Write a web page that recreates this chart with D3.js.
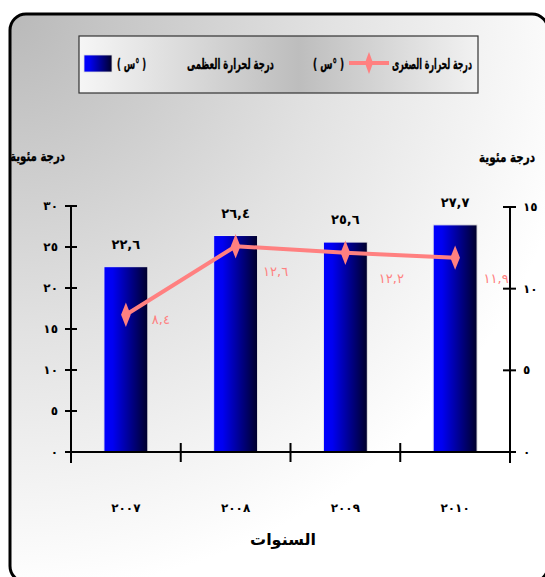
<!DOCTYPE html>
<html><head><meta charset="utf-8">
<script src="https://cdn.jsdelivr.net/npm/d3@7/dist/d3.min.js"></script>
<style>html,body{margin:0;padding:0;background:#fff;}svg{display:block;}</style>
</head><body>
<script>
// ---- data ----
const years = [2007, 2008, 2009, 2010];
const maxTemp = [22.6, 26.4, 25.6, 27.7];   // bars, left axis
const minTemp = [8.4, 12.6, 12.2, 11.9];    // line, right axis
const leftTicks = [0, 5, 10, 15, 20, 25, 30];
const rightTicks = [0, 5, 10, 15];
const legendMax = "درجة لحرارة العظمى";
const legendMin = "درجة لحرارة الصغرى";
const unitLabel = "( س° )";
const yTitle = "درجة مئوية";
const xTitle = "السنوات";

const W = 545, H = 577;
const FONT = "'DejaVu Sans', sans-serif";
const arDigits = "٠١٢٣٤٥٦٧٨٩";
const toAr = v => String(v).replace(/\./g, ",").replace(/[0-9]/g, d => arDigits[+d]);

const svg = d3.select("body").append("svg").attr("width", W).attr("height", H);
const defs = svg.append("defs");

const bg = defs.append("radialGradient").attr("id", "bgGrad")
  .attr("gradientUnits", "userSpaceOnUse").attr("cx", 10).attr("cy", 14).attr("r", 580);
bg.append("stop").attr("offset", 0).attr("stop-color", "#b9b9b9");
bg.append("stop").attr("offset", 0.55).attr("stop-color", "#e2e2e2");
bg.append("stop").attr("offset", 1).attr("stop-color", "#ffffff");

const lg = defs.append("linearGradient").attr("id", "legGrad").attr("x1", 0).attr("x2", 1).attr("y1", 0).attr("y2", 0);
lg.append("stop").attr("offset", 0).attr("stop-color", "#f6f6f6");
lg.append("stop").attr("offset", 0.55).attr("stop-color", "#bdbdbd");
lg.append("stop").attr("offset", 1).attr("stop-color", "#f2f2f2");

const barG = defs.append("linearGradient").attr("id", "barGrad").attr("x1", 0).attr("x2", 1).attr("y1", 0).attr("y2", 0);
barG.append("stop").attr("offset", 0).attr("stop-color", "#0000ff");
barG.append("stop").attr("offset", 0.2).attr("stop-color", "#0000f2");
barG.append("stop").attr("offset", 1).attr("stop-color", "#00002a");

// frame
svg.append("rect").attr("x", 10).attr("y", 14).attr("width", 538).attr("height", 568)
  .attr("rx", 16).attr("fill", "url(#bgGrad)").attr("stroke", "#000").attr("stroke-width", 3);

// scales
const x = d3.scaleBand().domain(years).range([71, 510]).paddingInner(0.6).paddingOuter(0.3);
const yL = d3.scaleLinear().domain([0, 30]).range([452, 206]);
const yR = d3.scaleLinear().domain([0, 15]).range([452, 207]);

// text fitted horizontally into [x0,x1] by scaling
function fitText(txt, x0, x1, y, size, dir) {
  const t = svg.append("text").attr("x", 0).attr("y", 0).attr("text-anchor", "middle")
    .attr("direction", dir).attr("font-family", FONT).attr("font-weight", "bold")
    .attr("font-size", size).attr("stroke", "#000").attr("stroke-width", 0.35).text(txt);
  if (dir === "ltr") t.attr("unicode-bidi", "bidi-override");
  const w = t.node().getComputedTextLength();
  const s = (x1 - x0) / w;
  t.attr("transform", `translate(${(x0 + x1) / 2},${y}) scale(${s},1)`);
  return t;
}

// legend
svg.append("rect").attr("x", 79).attr("y", 36).attr("width", 399).attr("height", 57)
  .attr("fill", "url(#legGrad)").attr("stroke", "#333").attr("stroke-width", 1.2);
const legY = 69;
fitText(legendMin, 392, 472, legY, 15, "rtl");
fitText(unitLabel, 313, 344, legY, 14, "ltr");
svg.append("line").attr("x1", 349).attr("x2", 389).attr("y1", 63).attr("y2", 63)
  .attr("stroke", "#ff8080").attr("stroke-width", 4);
svg.append("path").attr("d", d3.symbol(d3.symbolDiamond, 90)()).attr("transform", "translate(369,63) scale(0.8,1.25)")
  .attr("fill", "#ff8080");
fitText(legendMax, 187, 274, legY, 15, "rtl");
fitText(unitLabel, 117, 146, legY, 14, "ltr");
svg.append("rect").attr("x", 84).attr("y", 55).attr("width", 28).attr("height", 17)
  .attr("fill", "url(#barGrad)").attr("stroke", "#ddd").attr("stroke-width", 0.8);

// bars
svg.selectAll(".bar").data(maxTemp).join("rect").attr("class", "bar")
  .attr("x", (d, i) => x(years[i])).attr("width", x.bandwidth())
  .attr("y", d => yL(d)).attr("height", d => yL(0) - yL(d))
  .attr("fill", "url(#barGrad)").attr("stroke", "#e8e8e8").attr("stroke-width", 1);

svg.selectAll(".barlab").data(maxTemp).join("text").attr("class", "barlab")
  .attr("x", (d, i) => x(years[i]) + x.bandwidth() / 2).attr("y", d => yL(d) - 18)
  .attr("text-anchor", "middle").attr("font-family", FONT).attr("font-weight", "bold")
  .attr("font-size", 13).text(d => toAr(d));

// axes
const axisColor = "#000";
svg.append("line").attr("x1", 71).attr("x2", 510).attr("y1", yL(0)).attr("y2", yL(0))
  .attr("stroke", axisColor).attr("stroke-width", 2);
const bounds = years.map(y => x(y) - x.step() * 0.3).concat([510]);
svg.selectAll(".xtick").data(bounds.slice(1, 4)).join("line").attr("class", "xtick")
  .attr("x1", d => d).attr("x2", d => d).attr("y1", 443).attr("y2", 462)
  .attr("stroke", axisColor).attr("stroke-width", 2);
svg.append("line").attr("x1", 71).attr("x2", 71).attr("y1", yL(30)).attr("y2", 463)
  .attr("stroke", axisColor).attr("stroke-width", 2);
svg.selectAll(".ltick").data(leftTicks).join("line").attr("class", "ltick")
  .attr("x1", 65).attr("x2", 77).attr("y1", d => yL(d)).attr("y2", d => yL(d))
  .attr("stroke", axisColor).attr("stroke-width", 2);
svg.selectAll(".llab").data(leftTicks).join("text").attr("class", "llab")
  .attr("x", 58).attr("y", d => yL(d) + 4).attr("text-anchor", "end")
  .attr("font-family", FONT).attr("font-weight", "bold").attr("font-size", 12).text(d => toAr(d));
svg.append("line").attr("x1", 510).attr("x2", 510).attr("y1", yR(15)).attr("y2", 463)
  .attr("stroke", axisColor).attr("stroke-width", 2);
svg.selectAll(".rtick").data(rightTicks).join("line").attr("class", "rtick")
  .attr("x1", 503).attr("x2", 516).attr("y1", d => yR(d)).attr("y2", d => yR(d))
  .attr("stroke", axisColor).attr("stroke-width", 2);
svg.selectAll(".rlab").data(rightTicks).join("text").attr("class", "rlab")
  .attr("x", 523).attr("y", d => yR(d) + 4).attr("text-anchor", "start")
  .attr("font-family", FONT).attr("font-weight", "bold").attr("font-size", 12).text(d => toAr(d));

// axis titles
fitText(yTitle, 10, 65, 161, 14, "rtl");
fitText(yTitle, 479, 535, 162, 14, "rtl");

svg.selectAll(".xlab").data(years).join("text").attr("class", "xlab")
  .attr("x", d => x(d) + x.bandwidth() / 2).attr("y", 512).attr("text-anchor", "middle")
  .attr("font-family", FONT).attr("font-weight", "bold").attr("font-size", 12).text(d => toAr(d));
svg.append("text").attr("x", 283).attr("y", 545).attr("text-anchor", "middle")
  .attr("font-family", FONT).attr("font-weight", "bold").attr("font-size", 16).text(xTitle);

// line series
const line = d3.line().x((d, i) => x(years[i]) + x.bandwidth() / 2).y(d => yR(d));
svg.append("path").datum(minTemp).attr("d", line).attr("fill", "none")
  .attr("stroke", "#ff8080").attr("stroke-width", 4).attr("stroke-linejoin", "round");
svg.selectAll(".mk").data(minTemp).join("path").attr("class", "mk")
  .attr("d", d3.symbol(d3.symbolDiamond, 110)())
  .attr("transform", (d, i) => `translate(${x(years[i]) + x.bandwidth() / 2},${yR(d)}) scale(0.85,1.25)`)
  .attr("fill", "#ff8080");
const labOff = [[35, 9], [40, 30], [46, 30], [41, 25]];
svg.selectAll(".mlab").data(minTemp).join("text").attr("class", "mlab")
  .attr("x", (d, i) => x(years[i]) + x.bandwidth() / 2 + labOff[i][0])
  .attr("y", (d, i) => yR(d) + labOff[i][1]).attr("text-anchor", "middle")
  .attr("font-family", FONT).attr("font-size", 13).attr("fill", "#ff8080").text(d => toAr(d));
</script>
</body></html>
